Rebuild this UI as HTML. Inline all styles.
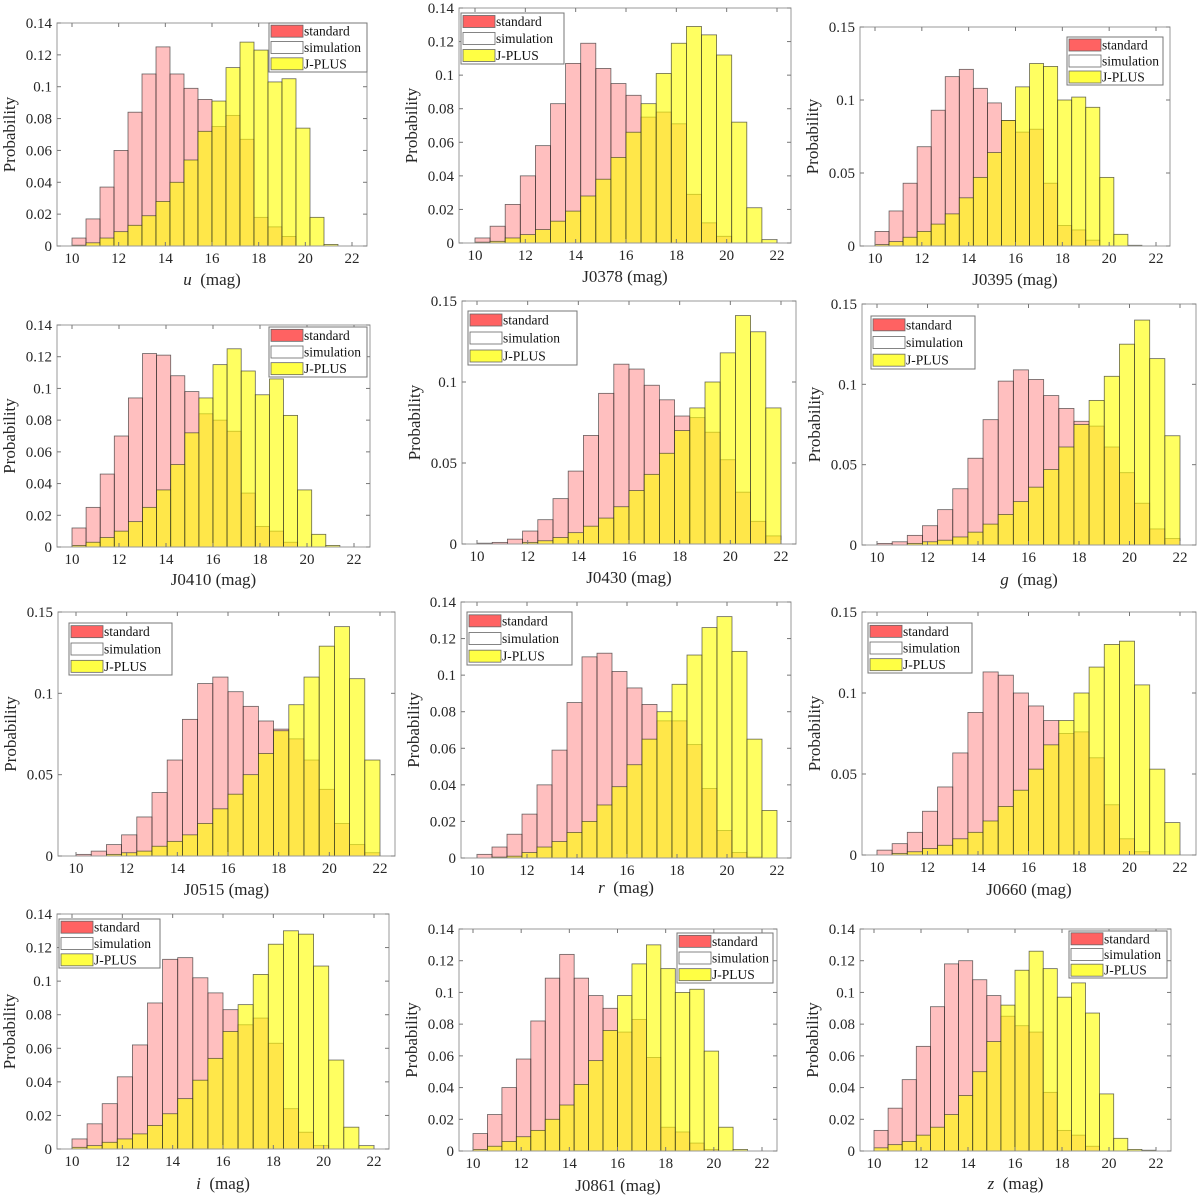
<!DOCTYPE html>
<html><head><meta charset="utf-8"><style>
html,body{margin:0;padding:0;background:#fff;}
svg{display:block;font-family:"Liberation Serif",serif;}
svg text{font-family:"Liberation Serif",serif;}
</style></head><body>
<svg id="fig" width="1200" height="1196" viewBox="0 0 1200 1196" font-family="Liberation Serif, serif" xmlns="http://www.w3.org/2000/svg"></svg>
<script>
const bandNames = ["u","J0378","J0395","J0410","J0430","g","J0515","r","J0660","i","J0861","z"];
const italicBand = [true,false,false,false,false,true,false,true,false,true,false,true];
const yMaxes = [0.14,0.14,0.15,0.14,0.15,0.15,0.15,0.14,0.15,0.14,0.14,0.14];
const binStart = 10, binWidth = 0.6;
const xTicks = [10,12,14,16,18,20,22];
const legendLabels = ["standard","simulation","J-PLUS"];
const stdU=[.005,.017,.037,.060,.084,.108,.125,.108,.099,.092,.075,.082,.067,.018,.012,.006,0,0,0,0];
const jpU=[.0005,.002,.005,.009,.013,.019,.028,.040,.054,.072,.091,.112,.128,.123,.103,.105,.074,.018,.001,0];
const std0378=[.003,.010,.023,.040,.058,.083,.107,.119,.104,.095,.088,.075,.078,.071,.029,.012,.004,0,0,0];
const jp0378=[.0005,.001,.003,.005,.008,.013,.019,.028,.038,.051,.066,.083,.101,.119,.129,.124,.112,.072,.021,.002];
const std0395=[.010,.024,.043,.068,.093,.116,.121,.108,.098,.086,.078,.080,.043,.014,.011,.004,0,0,0,0];
const jp0395=[.001,.003,.006,.010,.015,.022,.033,.047,.064,.086,.109,.125,.123,.100,.102,.095,.047,.008,.0005,0];
const std0410=[.012,.025,.046,.070,.094,.122,.121,.108,.098,.084,.080,.073,.034,.013,.010,.003,0,0,0,0];
const jp0410=[.001,.003,.006,.010,.016,.025,.036,.052,.072,.094,.115,.125,.111,.096,.106,.083,.036,.008,.001,0];
const std0430=[.0005,.001,.003,.008,.015,.028,.045,.067,.093,.111,.108,.098,.089,.079,.078,.069,.052,.032,.014,.005];
const jp0430=[0,0,0,.001,.002,.004,.007,.011,.016,.023,.033,.043,.056,.070,.084,.100,.118,.141,.131,.084];
const stdG=[.001,.002,.006,.012,.022,.035,.054,.078,.102,.109,.103,.093,.085,.077,.074,.061,.045,.026,.010,.004];
const jpG=[0,0,.001,.002,.003,.005,.008,.013,.019,.027,.036,.047,.061,.075,.090,.105,.125,.140,.116,.068];
const std0515=[.001,.003,.007,.013,.024,.039,.059,.084,.106,.110,.101,.092,.083,.078,.072,.059,.041,.020,.007,.002];
const jp0515=[0,0,.001,.002,.003,.006,.009,.013,.020,.029,.038,.050,.063,.077,.093,.110,.129,.141,.109,.059];
const stdR=[.002,.006,.013,.024,.040,.059,.085,.110,.112,.102,.093,.084,.075,.075,.062,.038,.015,.003,.0005,0];
const jpR=[0,.0005,.001,.003,.006,.009,.014,.020,.029,.039,.051,.065,.080,.095,.111,.126,.132,.113,.065,.026];
const std0660=[.003,.007,.014,.027,.042,.063,.088,.113,.111,.100,.092,.083,.075,.076,.060,.031,.010,.002,0,0];
const jp0660=[0,.001,.002,.004,.006,.010,.014,.021,.030,.040,.053,.068,.083,.100,.116,.130,.132,.105,.053,.020];
const stdI=[.006,.015,.027,.043,.062,.087,.113,.114,.102,.093,.083,.074,.078,.063,.024,.010,.002,0,0,0];
const jpI=[.001,.002,.004,.006,.009,.014,.021,.030,.041,.054,.070,.086,.104,.122,.130,.128,.109,.053,.013,.002];
const std0861=[.011,.023,.040,.058,.082,.109,.124,.109,.098,.090,.075,.083,.059,.015,.012,.005,.001,0,0,0];
const jp0861=[.001,.003,.006,.009,.013,.020,.029,.042,.057,.076,.098,.118,.130,.115,.100,.102,.063,.015,.001,0];
const stdZ=[.013,.027,.045,.066,.091,.118,.120,.108,.098,.085,.079,.075,.037,.013,.010,.003,0,0,0,0];
const jpZ=[.002,.004,.006,.010,.015,.023,.035,.050,.069,.092,.114,.126,.115,.097,.106,.087,.036,.008,.001,.0005];
const standardSeries=[stdU,std0378,std0395,std0410,std0430,stdG,std0515,stdR,std0660,stdI,std0861,stdZ];
const jplusSeries=[jpU,jp0378,jp0395,jp0410,jp0430,jpG,jp0515,jpR,jp0660,jpI,jp0861,jpZ];

const layouts=[
 [57,367,23,246,72,352,269,23,367,72,285],
 [459,791,8,243,475,777,461,13,564,64,282],
 [860,1170,27,246,875,1156,1067,37,1163,85,285],
 [57,370,325,547,72,354,269,327,367,377,585],
 [462,796,301,544,477,781,468,311,577,365,583],
 [862,1196,304,545,877,1180,871,316,975,369,585],
 [58,395,612,856,76,380,69,623,172,675,895],
 [461,791,602,858,477,777,467,612,572,665,893],
 [862,1196,612,855,877,1180,868,623,972,673,895],
 [57,389,914,1149,72,374,59,919,160,968,1189],
 [459,777,929,1151,473,762,677,933,773,983,1191],
 [860,1171,929,1151,874,1156,1069,931,1167,978,1189]
];
const NS="http://www.w3.org/2000/svg";
const FF="Liberation Serif, serif";
const fig=document.getElementById('fig');
function mk(tag,attrs,parent){const e=document.createElementNS(NS,tag);for(const k in attrs)e.setAttribute(k,attrs[k]);parent.appendChild(e);return e;}
function fmt(v){return String(+v.toFixed(3));}

for(let p=0;p<12;p++){
  const L=layouts[p];
  const [bl,br,bt,bb,x10,x22,lgL,lgT,lgR,lgB,xlY]=L;
  const ymax=yMaxes[p];
  const xs=v=>x10+(v-10)*(x22-x10)/12;
  const ys=v=>bb-v*(bb-bt)/ymax;
  const g=mk('g',{},fig);
  
  
  mk('rect',{x:bl,y:bt,width:br-bl,height:bb-bt,fill:'#fff',stroke:'none'},g);
  const sd=standardSeries[p], jp=jplusSeries[p];
  for(let k=0;k<sd.length;k++){
    const x0=xs(binStart+k*binWidth), x1=xs(binStart+(k+1)*binWidth);
    if(sd[k]>0){
      const r=mk('rect',{x:x0,y:ys(sd[k]),width:x1-x0,height:bb-ys(sd[k]),fill:'rgba(255,0,0,0.25)',stroke:'rgba(40,40,40,0.7)','stroke-width':0.8},g);
      
      
    }
  }
  for(let k=0;k<jp.length;k++){
    const x0=xs(binStart+k*binWidth), x1=xs(binStart+(k+1)*binWidth);
    if(jp[k]>0){
      const r=mk('rect',{x:x0,y:ys(jp[k]),width:x1-x0,height:bb-ys(jp[k]),fill:'rgba(255,255,0,0.62)',stroke:'rgba(40,40,40,0.7)','stroke-width':0.8},g);
      
      
    }
  }
  const box=mk('rect',{x:bl,y:bt,width:br-bl,height:bb-bt,fill:'none',stroke:'#999','stroke-width':1},g);
  
  
  for(const t of xTicks){
    const x=xs(t);
    mk('line',{x1:x,y1:bb,x2:x,y2:bb-4,stroke:'#777'},g);
    mk('line',{x1:x,y1:bt,x2:x,y2:bt+4,stroke:'#777'},g);
    const tx=mk('text',{x:x,y:bb+17,'font-size':15,'font-family':FF,'text-anchor':'middle',fill:'#262626'},g);
    tx.textContent=t;
    
    
  }
  const step = ymax>0.145?0.05:0.02;
  for(let v=0;v<=ymax+1e-9;v+=step){
    const y=ys(v);
    mk('line',{x1:bl,y1:y,x2:bl+4,y2:y,stroke:'#777'},g);
    mk('line',{x1:br,y1:y,x2:br-4,y2:y,stroke:'#777'},g);
    const ty=mk('text',{x:bl-5,y:y+5,'font-size':15,'font-family':FF,'text-anchor':'end',fill:'#262626'},g);
    ty.textContent=fmt(v);
    
    
  }
  const yl=mk('text',{x:0,y:0,'font-size':17,'font-family':FF,'text-anchor':'middle',fill:'#262626',transform:`translate(${bl-42},${(bt+bb)/2}) rotate(-90)`},g);
  yl.textContent='Probability';
  
  
  const xl=mk('text',{x:(bl+br)/2,y:xlY,'font-size':17,'font-family':FF,'text-anchor':'middle',fill:'#262626'},g);
  
  
  if(italicBand[p]){
    const a=mk('tspan',{'font-style':'italic'},xl);a.textContent=bandNames[p];
    const b=mk('tspan',{},xl);b.textContent='\u00a0 (mag)';
  } else xl.textContent=bandNames[p]+' (mag)';
  const lg=mk('g',{},g);
  
  
  mk('rect',{x:lgL,y:lgT,width:lgR-lgL,height:lgB-lgT,fill:'#fff',stroke:'#777','stroke-width':1},lg);
  const rh=(lgB-lgT)/3;
  const fills=['#ff6262','#ffffff','#ffff44'];
  for(let i=0;i<3;i++){
    const cy=lgT+rh*(i+0.5);
    const e=mk('g',{},lg);
    
    
    mk('rect',{x:lgL+2,y:cy-6,width:32,height:12,fill:fills[i],stroke:'#666','stroke-width':0.8},e);
    const t=mk('text',{x:lgL+35,y:cy+4.5,'font-size':13.5,'font-family':FF,fill:'#111'},e);
    t.textContent=legendLabels[i];
  }
}
</script>
</body></html>
